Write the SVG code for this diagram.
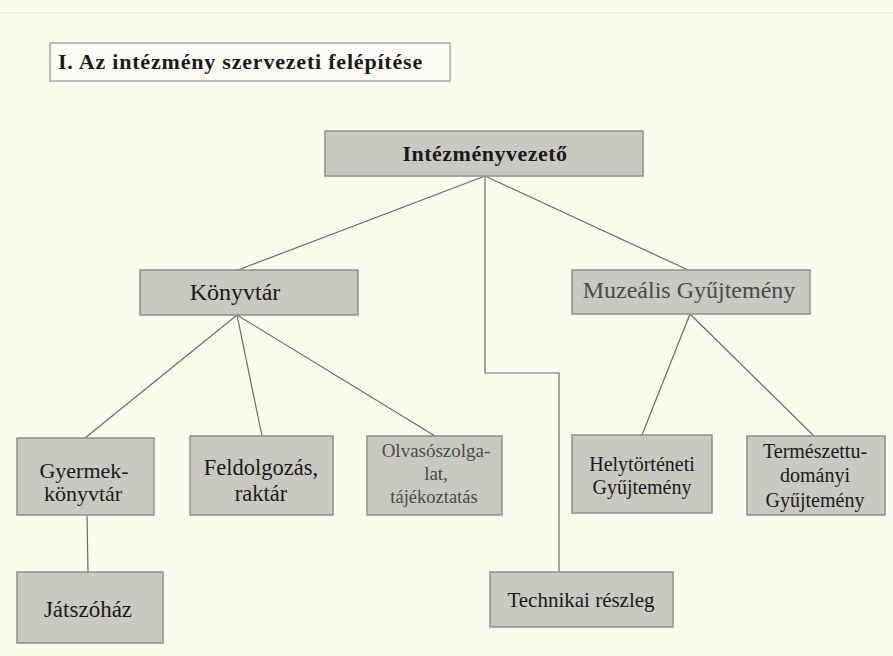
<svg xmlns="http://www.w3.org/2000/svg" width="893" height="656" viewBox="0 0 893 656">
<style>
.box{fill:#c9c9c1;stroke:#8e8e88;stroke-width:1.5}
text{fill:#1a1a1a;text-anchor:middle}
.light{fill:#4a4a48}
.c{fill:none;stroke:#6a6a66;stroke-width:1.2}
</style>
<rect x="0" y="0" width="893" height="656" fill="#fbfbee"/>
<line x1="0" y1="13" x2="893" y2="13" stroke="#e4e4d8" stroke-width="1"/>
<g id="title">
<rect x="50" y="43" width="400" height="38" fill="#fdfdf5" stroke="#a8a8a0" stroke-width="1.5"/>
<text x="58" y="69" font-family="Liberation Serif, serif" font-size="22" font-weight="bold" letter-spacing="0.8" style="text-anchor:start">I. Az intézmény szervezeti felépítése</text>
</g>
<g id="connectors">
<line class="c" x1="485" y1="176" x2="238" y2="270"/>
<line class="c" x1="485" y1="176" x2="688" y2="270"/>
<polyline class="c" points="485,176 485,373 559,373 559,572"/>
<line class="c" x1="237" y1="315" x2="85" y2="438"/>
<line class="c" x1="237" y1="315" x2="262" y2="436"/>
<line class="c" x1="237" y1="315" x2="435" y2="436"/>
<line class="c" x1="690" y1="314" x2="642" y2="435"/>
<line class="c" x1="690" y1="314" x2="815" y2="437"/>
<line class="c" x1="87" y1="515" x2="88" y2="572"/>
</g>
<g id="intezmenyvezeto">
<rect class="box" x="325" y="131" width="318" height="45"/>
<text x="485" y="161" font-family="Liberation Serif, serif" font-size="22" font-weight="bold" letter-spacing="0.5">Intézményvezető</text>
</g>
<g id="konyvtar">
<rect class="box" x="140" y="270" width="218" height="45"/>
<text x="235" y="300" font-family="Liberation Serif, serif" font-size="24">Könyvtár</text>
</g>
<g id="muzealis">
<rect class="box" x="572" y="270" width="238" height="44"/>
<text class="light" x="689" y="298" font-family="Liberation Serif, serif" font-size="24">Muzeális Gyűjtemény</text>
</g>
<g id="gyermekkonyvtar">
<rect class="box" x="17" y="438" width="137" height="77"/>
<text x="84" y="478" font-family="Liberation Serif, serif" font-size="22">Gyermek-</text>
<text x="83" y="501" font-family="Liberation Serif, serif" font-size="22">könyvtár</text>
</g>
<g id="feldolgozas">
<rect class="box" x="190" y="436" width="143" height="79"/>
<text x="261" y="475" font-family="Liberation Serif, serif" font-size="22.5">Feldolgozás,</text>
<text x="261" y="501" font-family="Liberation Serif, serif" font-size="22.5">raktár</text>
</g>
<g id="olvasoszolgalat">
<rect class="box" x="367" y="436" width="135" height="79"/>
<text class="light" x="436" y="457" font-family="Liberation Serif, serif" font-size="19">Olvasószolga-</text>
<text class="light" x="436" y="480" font-family="Liberation Serif, serif" font-size="19">lat,</text>
<text class="light" x="434" y="503" font-family="Liberation Serif, serif" font-size="18.5">tájékoztatás</text>
</g>
<g id="helytorteneti">
<rect class="box" x="572" y="435" width="140" height="78"/>
<text x="642" y="471" font-family="Liberation Serif, serif" font-size="20">Helytörténeti</text>
<text x="642" y="494" font-family="Liberation Serif, serif" font-size="20">Gyűjtemény</text>
</g>
<g id="termeszettudomanyi">
<rect class="box" x="747" y="436" width="138" height="79"/>
<text x="815" y="458" font-family="Liberation Serif, serif" font-size="20">Természettu-</text>
<text x="815" y="482" font-family="Liberation Serif, serif" font-size="20">dományi</text>
<text x="815" y="507" font-family="Liberation Serif, serif" font-size="20">Gyűjtemény</text>
</g>
<g id="jatszohaz">
<rect class="box" x="17" y="572" width="146" height="71"/>
<text x="88" y="617" font-family="Liberation Serif, serif" font-size="23">Játszóház</text>
</g>
<g id="technikai">
<rect class="box" x="490" y="572" width="183" height="55"/>
<text x="581" y="607" font-family="Liberation Serif, serif" font-size="21">Technikai részleg</text>
</g>
</svg>
